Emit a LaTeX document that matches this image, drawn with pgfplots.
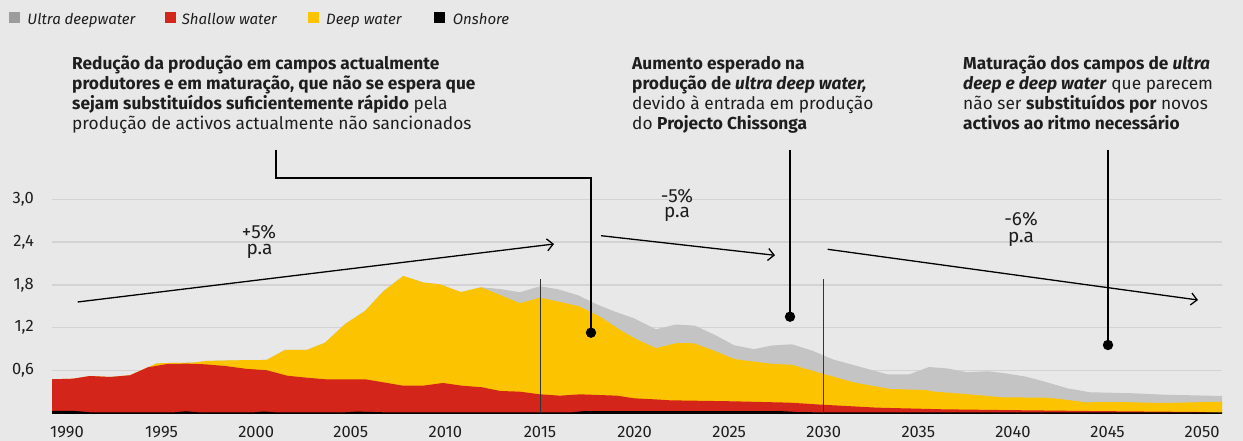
\documentclass[border=0pt]{standalone}
\usepackage{pgfplots}
\pgfplotsset{compat=1.18}
\usetikzlibrary{arrows.meta}
\usepackage{fontspec}
\setmainfont{Fira Sans}
\definecolor{bgc}{HTML}{E8E8E8}
\definecolor{gridc}{HTML}{D3D3D3}
\definecolor{ultra}{HTML}{C4C4C4}
\definecolor{ultraleg}{HTML}{9C9C9C}
\definecolor{shallow}{HTML}{D4251A}
\definecolor{deep}{HTML}{FCC400}
\definecolor{txt}{HTML}{1E1E1E}
\newcommand{\fs}[1]{\fontsize{#1bp}{#1bp}\selectfont}
\begin{document}
\begin{tikzpicture}[x=1bp,y=1bp]
\fill[bgc] (0,0) rectangle (1243,441);
\useasboundingbox (0,0) rectangle (1243,441);
\begin{axis}[
  at={(52bp,27.7bp)}, anchor=south west,
  scale only axis, width=1170bp, height=228.2bp,
  xmin=1989.207, xmax=2051.05, ymin=0, ymax=3.2,
  axis line style={draw=none}, major tick length=0pt,
  xtick={1990,1995,2000,2005,2010,2015,2020,2025,2030,2035,2040,2045,2050},
  xticklabels={1990,1995,2000,2005,2010,2015,2020,2025,2030,2035,2040,2045,2050},
  ytick={0.6,1.2,1.8,2.4,3.0},
  yticklabels={{0,6},{1,2},{1,8},{2,4},{3,0}},
  ymajorgrids, major grid style={draw=gridc, line width=1.3bp},
  tick label style={font=\fs{16.5}, text=txt},
  xticklabel style={anchor=north, inner sep=0pt, yshift=-12.7bp},
  yticklabel style={anchor=east, inner sep=0pt, xshift=-18bp},
]
% Ultra deepwater (total top)
\addplot[fill=ultra, draw=none] coordinates {
(1989.207,0.477) (1990.32,0.485) (1991.22,0.523) (1992.27,0.509) (1993.33,0.533) (1994.28,0.645) (1994.74,0.700) (1995.27,0.705) (1996.66,0.710) (1997.38,0.734) (1998.77,0.743) (2000.55,0.748) (2001.52,0.888) (2002.67,0.888) (2003.64,0.990) (2004.69,1.250) (2005.75,1.435) (2006.72,1.711) (2007.77,1.926) (2008.83,1.834) (2009.71,1.809) (2010.82,1.699) (2011.88,1.767)
(2012.89,1.743) (2013.94,1.697) (2015.00,1.781) (2015.95,1.739) (2017.01,1.655) (2017.96,1.533) (2018.96,1.425) (2019.97,1.332) (2021.13,1.178) (2022.19,1.245) (2023.19,1.229) (2024.25,1.098) (2025.25,0.955) (2026.31,0.899) (2027.26,0.951) (2028.32,0.968) (2029.43,0.874) (2030.49,0.755) (2033.39,0.544) (2034.50,0.544) (2035.56,0.649) (2036.56,0.628) (2037.57,0.575) (2038.68,0.590) (2039.58,0.561) (2040.64,0.516) (2041.69,0.443) (2042.86,0.351) (2044.07,0.295) (2046.34,0.281) (2047.93,0.261) (2051.05,0.243)
} \closedcycle;
% Deep water (cumulative top)
\addplot[fill=deep, draw=none] coordinates {
(1989.207,0.477) (1990.32,0.485) (1991.22,0.523) (1992.27,0.509) (1993.33,0.533) (1994.28,0.645) (1994.74,0.700) (1995.27,0.705) (1996.66,0.710) (1997.38,0.734) (1998.77,0.743) (2000.55,0.748) (2001.52,0.888) (2002.67,0.888) (2003.64,0.990) (2004.69,1.250) (2005.75,1.435) (2006.72,1.711) (2007.77,1.926) (2008.83,1.834) (2009.71,1.809) (2010.82,1.699) (2011.88,1.767) (2012.89,1.659) (2013.94,1.543) (2015.00,1.621) (2016.06,1.561) (2017.06,1.501) (2018.17,1.355) (2019.23,1.168) (2020.07,1.042) (2021.13,0.913) (2022.19,0.983) (2023.14,0.982) (2024.20,0.877) (2025.25,0.762) (2026.31,0.724) (2027.26,0.694) (2028.32,0.680) (2030.06,0.547) (2031.65,0.429) (2033.50,0.341) (2035.35,0.327) (2035.88,0.303) (2037.46,0.271) (2039.42,0.224) (2041.74,0.219) (2042.48,0.201) (2043.80,0.154) (2045.66,0.158) (2047.93,0.144) (2051.05,0.163)
} \closedcycle;
% Shallow water (cumulative top)
\addplot[fill=shallow, draw=none] coordinates {
(1989.207,0.477) (1990.32,0.485) (1991.22,0.523) (1992.27,0.509) (1993.33,0.533) (1994.28,0.645) (1995.29,0.691) (1996.34,0.696) (1997.29,0.687) (1998.35,0.663) (1999.46,0.624) (2000.57,0.603) (2001.63,0.527) (2002.68,0.499) (2003.64,0.477) (2005.75,0.477) (2006.70,0.435) (2007.76,0.387) (2008.82,0.387) (2009.87,0.425) (2010.88,0.387) (2011.93,0.365) (2012.89,0.313) (2013.94,0.303) (2015.00,0.266) (2016.06,0.247) (2017.11,0.266) (2019.07,0.247) (2019.97,0.210) (2021.03,0.196) (2021.87,0.182) (2025.20,0.168) (2028.21,0.149) (2029.80,0.122) (2032.81,0.079) (2036.30,0.056) (2039.31,0.046) (2044.07,0.032) (2049.88,0.018) (2051.05,0.005)
} \closedcycle;
% Onshore
\addplot[fill=black, draw=none] coordinates {
(1989.207,0.035) (1990.4,0.033) (1991.3,0.012) (1995.6,0.012) (1996.3,0.028) (1997.0,0.012) (1999.8,0.012) (2000.4,0.025) (2001.1,0.012) (2004.6,0.012) (2005.3,0.024) (2006.2,0.018) (2007.0,0.012) (2016.6,0.012) (2017.4,0.032) (2027.6,0.032) (2028.6,0.018) (2030.0,0.012) (2051.05,0.012)
} \closedcycle;
\draw[black, line width=1.2bp] (axis cs:1989.207,0) -- (axis cs:2051.05,0);
\draw[black!80, line width=0.9bp] (axis cs:2015,0) -- (axis cs:2015,1.88);
\draw[black!80, line width=0.9bp] (axis cs:2029.97,0) -- (axis cs:2029.97,1.88);
\end{axis}
% legend
\fill[ultraleg] (8.5,417.5) rectangle (19.5,428.5);
\node[anchor=base west, inner sep=0, text=txt, font=\fs{15}\itshape] at (27.3,416.7) {Ultra deepwater};
\fill[shallow] (164.5,417.5) rectangle (175.5,428.5);
\node[anchor=base west, inner sep=0, text=txt, font=\fs{15}\itshape] at (181.7,416.7) {Shallow water};
\fill[deep] (307.5,417.5) rectangle (318.5,428.5);
\node[anchor=base west, inner sep=0, text=txt, font=\fs{15}\itshape] at (326,416.7) {Deep water};
\fill[black] (434,417.5) rectangle (445,428.5);
\node[anchor=base west, inner sep=0, text=txt, font=\fs{15}\itshape] at (452.7,416.7) {Onshore};
% annotation texts
\begin{scope}[every node/.style={anchor=base west, inner sep=0, text=txt, font=\fs{17.3}}]
\node at (72,371.7) {\textbf{Redução da produção em campos actualmente}};
\node at (72,351.7) {\textbf{produtores e em maturação, que não se espera que}};
\node at (72,331.7) {\textbf{sejam substituídos suficientemente rápido} pela};
\node at (72,311.7) {produção de activos actualmente não sancionados};
\node at (632,371.7) {\textbf{Aumento esperado na}};
\node at (632,351.7) {\textbf{produção de \textit{ultra deep water,}}};
\node at (632,331.7) {devido à entrada em produção};
\node at (632,311.7) {do \textbf{Projecto Chissonga}};
\node at (963,371.7) {\textbf{Maturação dos campos de \textit{ultra}}};
\node at (963,351.7) {\textbf{\textit{deep e deep water}} que parecem};
\node at (963,331.7) {não ser \textbf{substituídos por} novos};
\node at (963,311.7) {\textbf{activos ao ritmo necessário}};
\end{scope}
% connectors
\draw[black, line width=1.6bp] (276,291) -- (276,263) -- (591,263) -- (591,108.3);
\fill[black] (591,108.3) circle (5.2);
\draw[black, line width=1.6bp] (790,291) -- (790,124.3);
\fill[black] (790,124.3) circle (5.2);
\draw[black, line width=1.6bp] (1108,291) -- (1108,96);
\fill[black] (1108,96) circle (5.2);
% growth arrows
\draw[black, line width=1.3bp, -{Straight Barb[length=6bp,width=12bp]}] (77.7,139) -- (554,197);
\draw[black, line width=1.3bp, -{Straight Barb[length=6bp,width=12bp]}] (601,205.3) -- (775,185.7);
\draw[black, line width=1.3bp, -{Straight Barb[length=6bp,width=12bp]}] (827.7,191.7) -- (1198,141);
\begin{scope}[every node/.style={anchor=base, inner sep=0, text=txt, font=\fs{19}}]
\node at (259,202) {+5\%};
\node at (259.5,186.5) {p.a};
\node at (677,238.7) {-5\%};
\node at (677,223.2) {p.a};
\node at (1021,215.3) {-6\%};
\node at (1021,198.2) {p.a};
\end{scope}
\end{tikzpicture}
\end{document}
